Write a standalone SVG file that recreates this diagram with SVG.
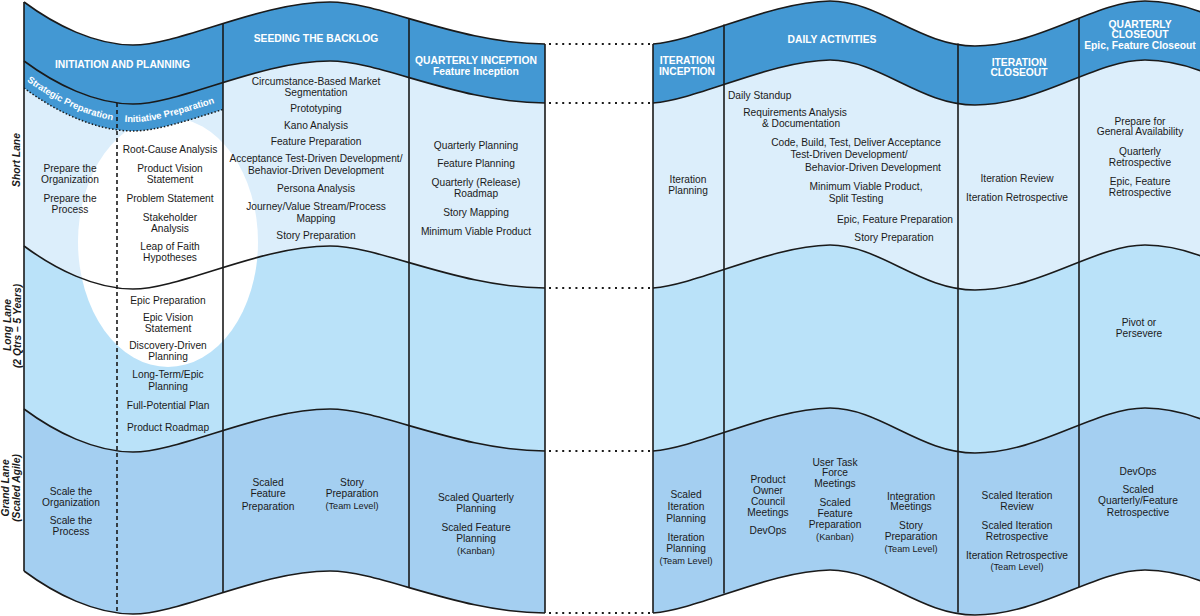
<svg xmlns="http://www.w3.org/2000/svg" xmlns:xlink="http://www.w3.org/1999/xlink" width="1200" height="616" viewBox="0 0 1200 616">
<style>
text{font-family:"Liberation Sans",Arial,Helvetica,sans-serif;}
.h{font-size:10.3px;font-weight:bold;fill:#fff;text-anchor:middle;}
.bp{font-size:9.4px;font-weight:bold;fill:#fff;text-anchor:middle;}
.t{font-size:10.2px;fill:#1a1a1a;text-anchor:middle;}
.ts{font-size:9.2px;fill:#1a1a1a;text-anchor:middle;}
.ln{font-size:10.3px;font-weight:bold;font-style:italic;fill:#1a1a1a;text-anchor:middle;}
.hd{fill:#4398d3;}
.sl{fill:#dceefb;}
.ll{fill:#bae2f9;}
.gd{fill:#a4cff1;}
.wh{fill:#fff;}
.k{fill:none;stroke:#1a1a1a;stroke-width:1.6;}
.dash{fill:none;stroke:#1a1a1a;stroke-width:1.6;stroke-dasharray:4 3;}
.dotb{fill:none;stroke:#1a1a1a;stroke-width:1.5;stroke-dasharray:1.5 2;}
.dotc{fill:none;stroke:#1a1a1a;stroke-width:2;stroke-dasharray:2 4.6;}
</style>
<defs>
<path id="fl" d="M24,2 C55,25 95,45 133,45 C180,45 260,2 330,2 C380,2 460,44 545,44"/>
<path id="fu" d="M24,2 C55,25 95,45 133,45 C180,45 260,2 330,2 C380,2 460,44 545,44 L545,700 L24,700 Z"/>
<path id="gl" d="M653,44 C700,40 770,2 830,1 C880,1 920,46 975,46 C1040,46 1095,1 1145,1 C1165,1 1185,6 1201,12"/>
<path id="gu" d="M653,44 C700,40 770,2 830,1 C880,1 920,46 975,46 C1040,46 1095,1 1145,1 C1165,1 1185,6 1201,12 L1201,700 L653,700 Z"/>
<path id="tp" d="M24,79 C55,102 95,122 133,122 C180,122 260,79 330,79"/>
<clipPath id="c1"><rect x="24" y="0" width="199" height="616"/></clipPath>
</defs>

<g id="panel-left">
<use xlink:href="#fu" class="hd"/>
<use xlink:href="#fu" class="sl" transform="translate(0,59)"/>
<use xlink:href="#fu" class="ll" transform="translate(0,244)"/>
<use xlink:href="#fu" class="gd" transform="translate(0,407)"/>
<use xlink:href="#fu" class="wh" transform="translate(0,569)"/>
<ellipse cx="168" cy="242" rx="90" ry="125" class="wh"/>
<g clip-path="url(#c1)">
<path class="hd" d="M24,61 C55,84 95,104 133,104 C180,104 260,61 330,61 L330,88 C260,88 180,131 133,131 C95,131 55,111 24,88 Z"/>
<path class="dotb" d="M24,88 C55,111 95,131 133,131 C180,131 260,88 330,88"/>
</g>
<use xlink:href="#fl" class="k"/>
<use xlink:href="#fl" class="k" transform="translate(0,59)"/>
<use xlink:href="#fl" class="k" transform="translate(0,244)"/>
<use xlink:href="#fl" class="k" transform="translate(0,407)"/>
<use xlink:href="#fl" class="k" transform="translate(0,569)"/>
<line class="k" x1="24" y1="2" x2="24" y2="571"/>
<line class="dash" x1="117" y1="103" x2="117" y2="613"/>
<line class="k" x1="223" y1="23.5" x2="223" y2="592.5"/>
<line class="k" x1="409" y1="18.5" x2="409" y2="587.5"/>
<line class="k" x1="545" y1="44" x2="545" y2="613"/>
</g>

<g id="panel-right">
<use xlink:href="#gu" class="hd"/>
<use xlink:href="#gu" class="sl" transform="translate(0,59)"/>
<use xlink:href="#gu" class="ll" transform="translate(0,244)"/>
<use xlink:href="#gu" class="gd" transform="translate(0,407)"/>
<use xlink:href="#gu" class="wh" transform="translate(0,569)"/>
<use xlink:href="#gl" class="k"/>
<use xlink:href="#gl" class="k" transform="translate(0,59)"/>
<use xlink:href="#gl" class="k" transform="translate(0,244)"/>
<use xlink:href="#gl" class="k" transform="translate(0,407)"/>
<use xlink:href="#gl" class="k" transform="translate(0,569)"/>
<line class="k" x1="653" y1="44" x2="653" y2="613"/>
<line class="k" x1="724" y1="24.5" x2="724" y2="593.5"/>
<line class="k" x1="958" y1="43.5" x2="958" y2="612.5"/>
<line class="k" x1="1079" y1="18" x2="1079" y2="587"/>
</g>

<g id="connectors">
<line class="dotc" x1="549" y1="44" x2="650" y2="44"/>
<line class="dotc" x1="549" y1="103" x2="650" y2="103"/>
<line class="dotc" x1="549" y1="288" x2="650" y2="288"/>
<line class="dotc" x1="549" y1="451" x2="650" y2="451"/>
<line class="dotc" x1="549" y1="613" x2="650" y2="613"/>
</g>

<g id="lane-short"><text class="ln" transform="translate(20.3,160) rotate(-90)">Short Lane</text></g>
<g id="lane-long"><text class="ln" transform="translate(10.7,325) rotate(-90)">Long Lane</text><text class="ln" transform="translate(20.5,326) rotate(-90)">(2 Qtrs – 5 Years)</text></g>
<g id="lane-grand"><text class="ln" transform="translate(9.3,488) rotate(-90)">Grand Lane</text><text class="ln" transform="translate(19.6,488) rotate(-90)">(Scaled Agile)</text></g>

<g id="head-initiation"><text class="h" x="122.5" y="68">INITIATION AND PLANNING</text></g>
<g id="band-strategic"><text class="bp"><textPath xlink:href="#tp" startOffset="51">Strategic Preparation</textPath></text></g>
<g id="band-initiative"><text class="bp"><textPath xlink:href="#tp" startOffset="157">Initiative Preparation</textPath></text></g>
<g id="head-seeding"><text class="h" x="316" y="41.5">SEEDING THE BACKLOG</text></g>
<g id="head-quarterly-inception"><text class="h" x="476" y="64">QUARTERLY INCEPTION</text><text class="h" x="476" y="74.5">Feature Inception</text></g>
<g id="head-iteration-inception"><text class="h" x="687" y="64">ITERATION</text><text class="h" x="687" y="74.5">INCEPTION</text></g>
<g id="head-daily"><text class="h" x="832" y="43">DAILY ACTIVITIES</text></g>
<g id="head-iteration-closeout"><text class="h" x="1019" y="65.5">ITERATION</text><text class="h" x="1019" y="76">CLOSEOUT</text></g>
<g id="head-quarterly-closeout"><text class="h" x="1140" y="27.5">QUARTERLY</text><text class="h" x="1140" y="38">CLOSEOUT</text><text class="h" x="1140" y="49">Epic, Feature Closeout</text></g>

<g id="short-strategic">
<text class="t" x="70" y="172">Prepare the</text><text class="t" x="70" y="183">Organization</text>
<text class="t" x="70" y="202">Prepare the</text><text class="t" x="70" y="213">Process</text>
</g>
<g id="short-initiative">
<text class="t" x="170" y="153">Root-Cause Analysis</text>
<text class="t" x="170" y="172">Product Vision</text><text class="t" x="170" y="183">Statement</text>
<text class="t" x="170" y="202">Problem Statement</text>
<text class="t" x="170" y="220.5">Stakeholder</text><text class="t" x="170" y="231.5">Analysis</text>
<text class="t" x="170" y="250">Leap of Faith</text><text class="t" x="170" y="261">Hypotheses</text>
</g>
<g id="short-seeding">
<text class="t" x="316" y="84.5">Circumstance-Based Market</text><text class="t" x="316" y="95.5">Segmentation</text>
<text class="t" x="316" y="112">Prototyping</text>
<text class="t" x="316" y="128.5">Kano Analysis</text>
<text class="t" x="316" y="144.5">Feature Preparation</text>
<text class="t" x="316" y="162">Acceptance Test-Driven Development/</text><text class="t" x="316" y="174">Behavior-Driven Development</text>
<text class="t" x="316" y="191.5">Persona Analysis</text>
<text class="t" x="316" y="210">Journey/Value Stream/Process</text><text class="t" x="316" y="222">Mapping</text>
<text class="t" x="316" y="239">Story Preparation</text>
</g>
<g id="short-quarterly-inception">
<text class="t" x="476" y="148.5">Quarterly Planning</text>
<text class="t" x="476" y="167">Feature Planning</text>
<text class="t" x="476" y="185.5">Quarterly (Release)</text><text class="t" x="476" y="196.5">Roadmap</text>
<text class="t" x="476" y="215.5">Story Mapping</text>
<text class="t" x="476" y="234.5">Minimum Viable Product</text>
</g>
<g id="long-initiative">
<text class="t" x="168" y="304">Epic Preparation</text>
<text class="t" x="168" y="320.5">Epic Vision</text><text class="t" x="168" y="332">Statement</text>
<text class="t" x="168" y="349">Discovery-Driven</text><text class="t" x="168" y="360">Planning</text>
<text class="t" x="168" y="378">Long-Term/Epic</text><text class="t" x="168" y="390">Planning</text>
<text class="t" x="168" y="409">Full-Potential Plan</text>
<text class="t" x="168" y="431">Product Roadmap</text>
</g>
<g id="grand-strategic">
<text class="t" x="71" y="495">Scale the</text><text class="t" x="71" y="505.5">Organization</text>
<text class="t" x="71" y="524">Scale the</text><text class="t" x="71" y="535">Process</text>
</g>
<g id="grand-seeding">
<text class="t" x="268" y="485.5">Scaled</text><text class="t" x="268" y="497">Feature</text><text class="t" x="268" y="509.5">Preparation</text>
<text class="t" x="352" y="485.5">Story</text><text class="t" x="352" y="497">Preparation</text><text class="ts" x="352" y="508.5">(Team Level)</text>
</g>
<g id="grand-quarterly-inception">
<text class="t" x="476" y="501">Scaled Quarterly</text><text class="t" x="476" y="512">Planning</text>
<text class="t" x="476" y="530.5">Scaled Feature</text><text class="t" x="476" y="541.5">Planning</text>
<text class="ts" x="476" y="554">(Kanban)</text>
</g>

<g id="short-iteration-inception">
<text class="t" x="688" y="183">Iteration</text><text class="t" x="688" y="194">Planning</text>
</g>
<g id="short-daily">
<text class="t" x="728" y="99" style="text-anchor:start">Daily Standup</text>
<text class="t" x="795" y="115.5">Requirements Analysis</text><text class="t" x="801" y="126.5">&amp; Documentation</text>
<text class="t" x="856" y="145.5">Code, Build, Test, Deliver Acceptance</text>
<text class="t" x="849" y="158">Test-Driven Development/</text>
<text class="t" x="873" y="171">Behavior-Driven Development</text>
<text class="t" x="866" y="190">Minimum Viable Product,</text><text class="t" x="856" y="201.5">Split Testing</text>
<text class="t" x="895" y="223">Epic, Feature Preparation</text>
<text class="t" x="894" y="241">Story Preparation</text>
</g>
<g id="short-iteration-closeout">
<text class="t" x="1017" y="182">Iteration Review</text>
<text class="t" x="1017" y="201">Iteration Retrospective</text>
</g>
<g id="short-quarterly-closeout">
<text class="t" x="1140" y="124.5">Prepare for</text><text class="t" x="1140" y="135">General Availability</text>
<text class="t" x="1140" y="154.5">Quarterly</text><text class="t" x="1140" y="165.5">Retrospective</text>
<text class="t" x="1140" y="184.5">Epic, Feature</text><text class="t" x="1140" y="195.5">Retrospective</text>
</g>
<g id="long-quarterly-closeout">
<text class="t" x="1139" y="326">Pivot or</text><text class="t" x="1139" y="337">Persevere</text>
</g>
<g id="grand-iteration-inception">
<text class="t" x="686" y="498">Scaled</text><text class="t" x="686" y="509.5">Iteration</text><text class="t" x="686" y="522">Planning</text>
<text class="t" x="686" y="540.5">Iteration</text><text class="t" x="686" y="551.5">Planning</text>
<text class="ts" x="686" y="563.5">(Team Level)</text>
</g>
<g id="grand-daily-council">
<text class="t" x="768" y="483">Product</text><text class="t" x="768" y="494">Owner</text><text class="t" x="768" y="505">Council</text><text class="t" x="768" y="516">Meetings</text>
<text class="t" x="768" y="534">DevOps</text>
</g>
<g id="grand-daily-taskforce">
<text class="t" x="835" y="465.5">User Task</text><text class="t" x="835" y="476">Force</text><text class="t" x="835" y="487">Meetings</text>
<text class="t" x="835" y="505.5">Scaled</text><text class="t" x="835" y="517">Feature</text><text class="t" x="835" y="528">Preparation</text>
<text class="ts" x="835" y="539.5">(Kanban)</text>
</g>
<g id="grand-daily-integration">
<text class="t" x="911" y="499.5">Integration</text><text class="t" x="911" y="510">Meetings</text>
<text class="t" x="911" y="529">Story</text><text class="t" x="911" y="540">Preparation</text>
<text class="ts" x="911" y="552">(Team Level)</text>
</g>
<g id="grand-iteration-closeout">
<text class="t" x="1017" y="499">Scaled Iteration</text><text class="t" x="1017" y="509.5">Review</text>
<text class="t" x="1017" y="529">Scaled Iteration</text><text class="t" x="1017" y="540">Retrospective</text>
<text class="t" x="1017" y="559">Iteration Retrospective</text>
<text class="ts" x="1017" y="570">(Team Level)</text>
</g>
<g id="grand-quarterly-closeout">
<text class="t" x="1138" y="474.5">DevOps</text>
<text class="t" x="1138" y="493">Scaled</text><text class="t" x="1138" y="504">Quarterly/Feature</text><text class="t" x="1138" y="516">Retrospective</text>
</g>
</svg>
